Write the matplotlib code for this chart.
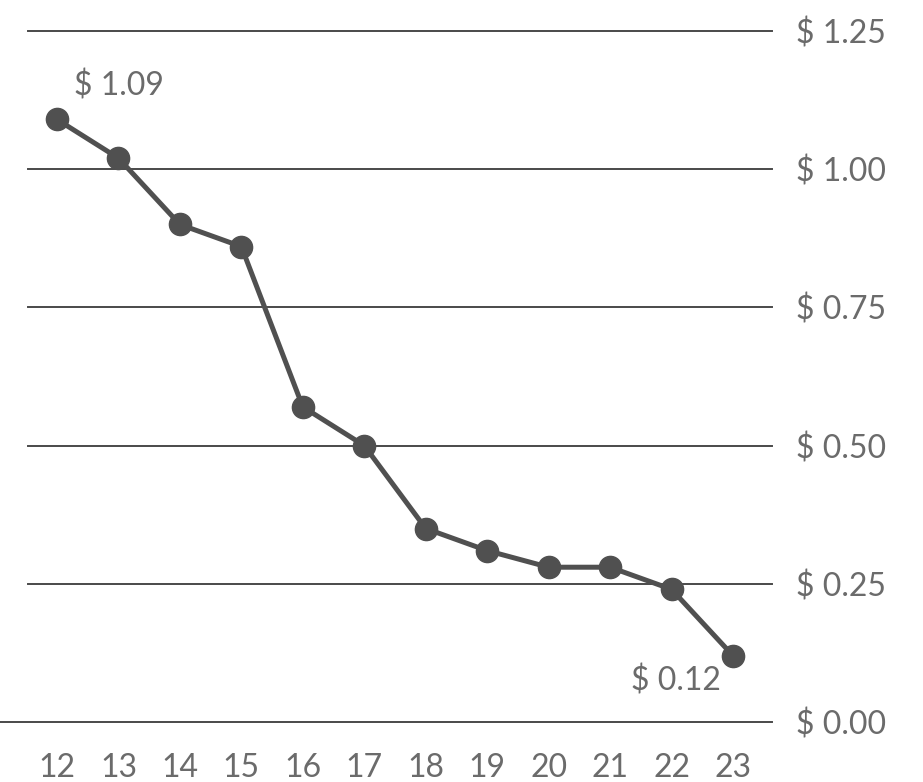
import matplotlib
matplotlib.use("Agg")
import matplotlib.pyplot as plt

# price per unit, by year
years = [12, 13, 14, 15, 16, 17, 18, 19, 20, 21, 22, 23]
price = [1.09, 1.02, 0.90, 0.86, 0.57, 0.50, 0.35, 0.31, 0.28, 0.28, 0.24, 0.12]
y_ticks = [0.0, 0.25, 0.50, 0.75, 1.00, 1.25]

plt.rcParams["font.family"] = ["Lato", "DejaVu Sans"]
TXT = "#6b6b6b"
DARK = "#505050"
FS = 23

W, H = 923, 782
fig = plt.figure(figsize=(W / 100, H / 100), dpi=100)
# plot area: left edge of figure to x=772px, y=0 sits at 722px
ax = fig.add_axes([0, 60 / H, 772 / W, 722 / H])
ax.set_xlim(12 - 57 / 61.45, 23 + 39 / 61.45)
ax.set_ylim(0, 722 / 552.8)

for v in y_ticks:
    ax.axhline(v, xmin=0 if v == 0 else 28 / 772, xmax=1,
               color="#4a4a4a", lw=1.4, zorder=1, clip_on=False)

ax.plot(years, price, color=DARK, lw=3.6, marker="o", ms=16,
        zorder=3, clip_on=False)

ax.text(years[0] + 0.28, price[0] + 0.06, f"$ {price[0]:.2f}",
        fontsize=FS, color=TXT, ha="left", va="center")
ax.text(years[-1] - 0.2, price[-1] - 0.045, f"$ {price[-1]:.2f}",
        fontsize=FS, color=TXT, ha="right", va="center")

for s in ax.spines.values():
    s.set_visible(False)
ax.set_xticks(years)
ax.set_xticklabels([str(y) for y in years])
ax.set_yticks(y_ticks)
ax.set_yticklabels([f"$ {v:.2f}" for v in y_ticks])
ax.yaxis.tick_right()
ax.tick_params(axis="both", length=0, labelsize=FS, labelcolor=TXT)
ax.tick_params(axis="y", pad=17)
ax.tick_params(axis="x", pad=22)

fig.savefig("out.png", dpi=100, facecolor="white")
